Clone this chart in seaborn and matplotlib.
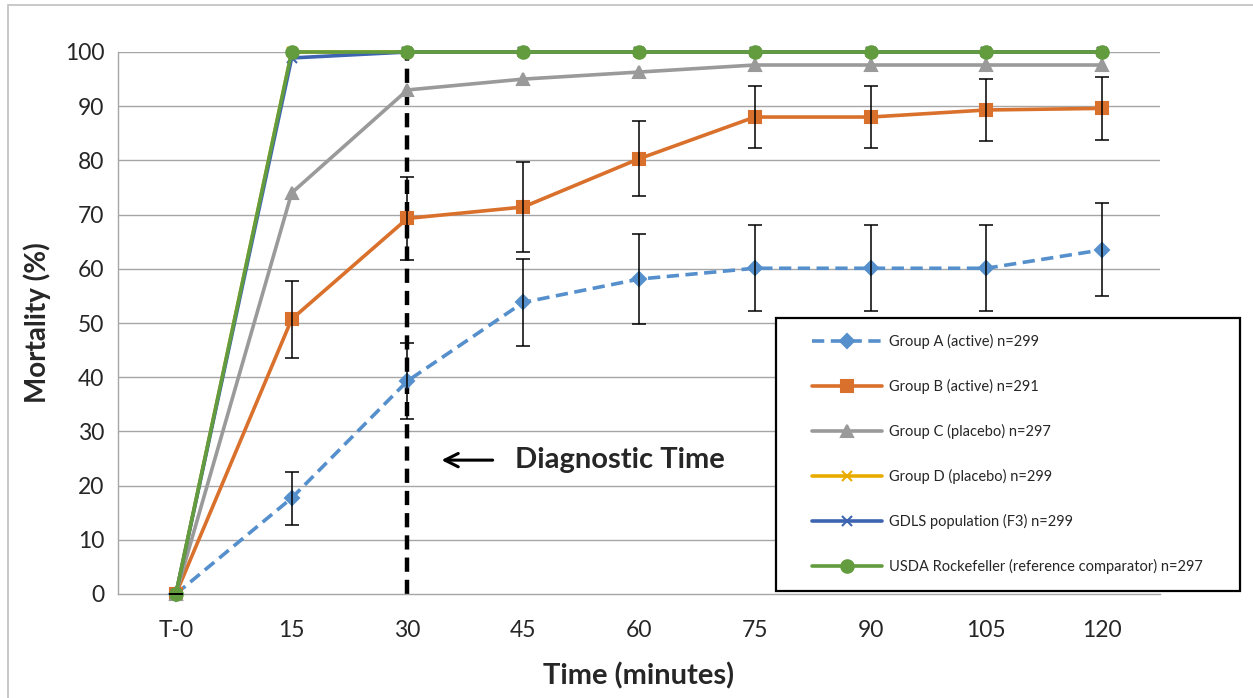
import numpy as np
import pandas as pd
import matplotlib.pyplot as plt
import seaborn as sns
from matplotlib.patches import Rectangle

# Datos
tiempos = ["T-0", "15", "30", "45", "60", "75", "90", "105", "120"]

grupo_a = [0, 17.7, 39.3, 53.8, 58.1, 60.1, 60.1, 60.1, 63.5]
grupo_a_err = [0, 4.9, 7.0, 8.0, 8.3, 7.9, 7.9, 7.9, 8.6]
grupo_b = [0, 50.7, 69.3, 71.4, 80.3, 88.0, 88.0, 89.3, 89.6]
grupo_b_err = [0, 7.1, 7.7, 8.3, 6.9, 5.7, 5.8, 5.8, 5.8]
grupo_c = [0, 74.0, 93.0, 95.0, 96.3, 97.6, 97.6, 97.6, 97.6]
grupo_d = [0, 100, 100, 100, 100, 100, 100, 100, 100]
gdls = [0, 98.9, 100, 100, 100, 100, 100, 100, 100]
usda = [0, 100, 100, 100, 100, 100, 100, 100, 100]

etiquetas = [
    "Group A (active) n=299",
    "Group B (active) n=291",
    "Group C (placebo) n=297",
    "Group D (placebo) n=299",
    "GDLS population (F3) n=299",
    "USDA Rockefeller (reference comparator) n=297",
]

sns.set_style("white")
plt.rcParams["font.family"] = ["Lato", "DejaVu Sans"]

fig = plt.figure(figsize=(12.53, 6.98), dpi=100)
ax = fig.add_axes([118 / 1253, 1 - 594 / 698, (1160 - 118) / 1253, (594 - 52) / 698])

x = np.arange(len(tiempos))
gris = "#a6a6a6"

for v in range(10, 101, 10):
    ax.axhline(v, color=gris, lw=1, zorder=0)

# linea vertical del tiempo de diagnostico
ax.plot([2, 2], [0, 100], color="black", lw=3.2, ls=(0, (3.2, 1.8)), zorder=1)

series = [
    (grupo_a, "#5590cc", "D", 7, (0, (3.4, 1.8))),
    (grupo_b, "#d9702b", "s", 9, "-"),
    (grupo_c, "#9a9a9a", "^", 8, "-"),
    (grupo_d, "#e8ac00", "x", 7, "-"),
    (gdls, "#3d64b0", "x", 7, "-"),
    (usda, "#629c3f", "o", 9, "-"),
]

for (valores, color, marcador, tam, estilo), etiqueta in zip(series, etiquetas):
    df = pd.DataFrame({"t": x, "m": valores})
    sns.lineplot(data=df, x="t", y="m", ax=ax, color=color, marker=marcador,
                 markersize=tam, markeredgecolor=color, markeredgewidth=1.5,
                 lw=2.6, linestyle=estilo, label=etiqueta, clip_on=False, zorder=3)

ax.errorbar(x, grupo_a, yerr=grupo_a_err, fmt="none", ecolor="black", elinewidth=1.1,
            capsize=5, capthick=1.1, zorder=4, clip_on=False)
ax.errorbar(x, grupo_b, yerr=grupo_b_err, fmt="none", ecolor="black", elinewidth=1.1,
            capsize=5, capthick=1.1, zorder=4, clip_on=False)

ax.set_xlim(-0.5, len(tiempos) - 0.5)
ax.set_ylim(0, 100)
ax.set_yticks(range(0, 101, 10))
ax.set_xticks(x)
ax.set_xticklabels(tiempos)
ax.set_xticks(np.arange(-0.5, len(tiempos), 1), minor=True)
ax.tick_params(axis="x", which="major", length=0, labelsize=16.5, pad=19)
ax.tick_params(axis="x", which="minor", length=8, color=gris, width=1, direction="out")
ax.tick_params(axis="y", length=8, color=gris, width=1, labelsize=16.5, pad=2, direction="out")

for lado in ["top", "right"]:
    ax.spines[lado].set_visible(False)
for lado in ["left", "bottom"]:
    ax.spines[lado].set_color(gris)
    ax.spines[lado].set_linewidth(1)

ax.set_xlabel("Time (minutes)", fontsize=21, fontweight="bold", labelpad=15)
ax.set_ylabel("Mortality (%)", fontsize=20, fontweight="bold", labelpad=10)

# anotacion
ax.annotate("", xy=(2.27, 24.7), xytext=(2.76, 24.7),
            arrowprops=dict(arrowstyle="->", color="black", lw=2.2, mutation_scale=24))
ax.text(2.93, 24.7, "Diagnostic Time", fontsize=21, fontweight="bold", va="center", ha="left")

# leyenda con marco propio
ax.get_legend().remove()
handles, labels = ax.get_legend_handles_labels()
fig.patches.append(Rectangle((776 / 1253, 1 - 591 / 698), (1240 - 776) / 1253, (591 - 318) / 698,
                             transform=fig.transFigure, fill=True, facecolor="white",
                             edgecolor="black", lw=1.6, zorder=5))
leg = fig.legend(handles, labels, loc="upper left",
                 bbox_to_anchor=(812 / 1253, 1 - 334 / 698), frameon=False,
                 fontsize=10.5, handlelength=4.8, handletextpad=0.45, labelspacing=2.05,
                 borderpad=0, borderaxespad=0)
leg.set_zorder(6)

# borde del area del grafico
fig.patches.append(Rectangle((8 / 1253, -0.01), 1.02, 1 - 5 / 698 + 0.01,
                             transform=fig.transFigure, fill=False, edgecolor="#bfbfbf", lw=1.2))

fig.savefig("out.png", dpi=100)
